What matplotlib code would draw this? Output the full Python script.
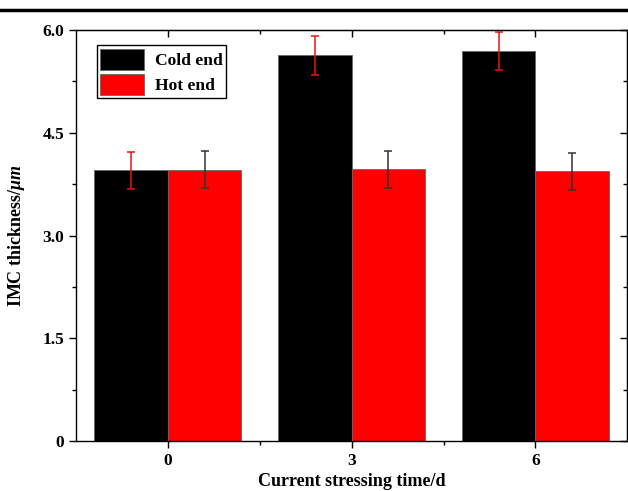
import numpy as np
import matplotlib
matplotlib.use('Agg')
import matplotlib.pyplot as plt
from matplotlib.lines import Line2D
from matplotlib.ticker import MultipleLocator, FixedLocator

# data
times = [0, 3, 6]
cold_end = [3.95, 5.63, 5.69]
cold_err = [0.27, 0.28, 0.28]
hot_end = [3.96, 3.97, 3.94]
hot_err = [0.27, 0.27, 0.27]
y_ticks = [0, 1.5, 3.0, 4.5, 6.0]
y_labels = ['0', '1.5', '3.0', '4.5', '6.0']

plt.rcParams['font.family'] = 'Liberation Serif'
plt.rcParams['font.weight'] = 'bold'
plt.rcParams['mathtext.fontset'] = 'custom'
plt.rcParams['mathtext.rm'] = 'Liberation Serif:bold'
plt.rcParams['mathtext.it'] = 'Liberation Serif:italic:bold'

fig = plt.figure(figsize=(6.28, 4.91), dpi=100)
ax = fig.add_axes([0.121, 0.1018, 0.878, 0.8371])

x = np.array(times, dtype=float)
w = 1.2
ax.bar(x - w / 2, cold_end, w, color='black', edgecolor='#666666', linewidth=0.6,
       label='Cold end', zorder=2)
ax.bar(x + w / 2, hot_end, w, color='#ff0000', edgecolor='#666666', linewidth=0.6,
       label='Hot end', zorder=2)
ax.errorbar(x - w / 2, cold_end, yerr=cold_err, fmt='none', ecolor='#ee1111',
            elinewidth=1.1, capsize=3, capthick=1.1, zorder=3)
ax.errorbar(x + w / 2, hot_end, yerr=hot_err, fmt='none', ecolor='#333333',
            elinewidth=1.1, capsize=3, capthick=1.1, zorder=3)

ax.set_xlim(-1.5, 7.5)
ax.set_ylim(0, 6.0)
ax.set_xticks(times)
ax.set_xticklabels([str(t) for t in times])
ax.xaxis.set_minor_locator(FixedLocator([1.5, 4.5]))
ax.set_yticks(y_ticks)
ax.set_yticklabels(y_labels)
ax.yaxis.set_minor_locator(MultipleLocator(0.75))

ax.tick_params(which='both', direction='out', top=False, right=False,
               width=1.0, labelsize=12.5, colors='black')
ax.tick_params(which='major', length=5)
ax.tick_params(which='minor', length=3)
# mirrored inward ticks on top and right
sec_x = ax.secondary_xaxis('top')
sec_x.set_xticks(times)
sec_x.xaxis.set_minor_locator(FixedLocator([1.5, 4.5]))
sec_x.tick_params(which='both', direction='in', labeltop=False, width=1.0)
sec_x.tick_params(which='major', length=5)
sec_x.tick_params(which='minor', length=3)
sec_y = ax.secondary_yaxis('right')
sec_y.set_yticks(y_ticks)
sec_y.yaxis.set_minor_locator(MultipleLocator(0.75))
sec_y.tick_params(which='both', direction='in', labelright=False, width=1.0)
sec_y.tick_params(which='major', length=5)
sec_y.tick_params(which='minor', length=3)

for s in ax.spines.values():
    s.set_linewidth(1.0)

ax.set_xlabel('Current stressing time/d', fontsize=13, fontweight='bold', labelpad=3)
ax.set_ylabel('IMC thickness/$\\mathit{\\mu m}$', fontsize=13, fontweight='bold', labelpad=11)

leg = ax.legend(loc='upper left', bbox_to_anchor=(0.038, 0.963), fontsize=12.6,
                frameon=True, fancybox=False, edgecolor='black', framealpha=1,
                handlelength=2.5, handleheight=1.5, borderpad=0.2,
                labelspacing=0.2, handletextpad=0.6, borderaxespad=0)
leg.get_frame().set_linewidth(1.0)

# page rule on top
fig.add_artist(Line2D([0, 1], [0.979, 0.979], color='black', linewidth=2.5,
                      transform=fig.transFigure))

fig.savefig('out.png', dpi=100)
